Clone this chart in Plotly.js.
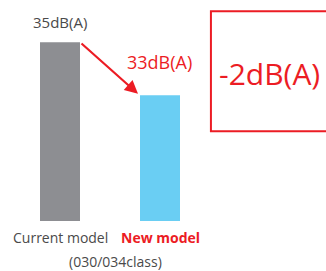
<!DOCTYPE html>
<html><head><meta charset="utf-8">
<script src="https://cdn.plot.ly/plotly-3.0.1.min.js"></script>
<style>html,body{margin:0;padding:0;background:#fff;overflow:hidden}#c{width:326px;height:271px;overflow:hidden}</style>
</head><body><div id="c"></div>
<script>
const categories = ["Current model", "New model"];
const values = [35, 33];
const valueLabels = ["35dB(A)", "33dB(A)"];
const subLabel = "(030/034class)";
const diffLabel = "-2dB(A)";
const barColors = ["#8d8e92", "#6acef3"];

const red = "#ec1c24";
const fontFam = "Open Sans, Noto Sans, sans-serif";

const trace = {
  type: "bar",
  x: [0, 1],
  y: values,
  base: 0,
  width: 0.4,
  marker: {color: barColors, line: {width: 0}},
  hoverinfo: "none"
};

const layout = {
  width: 326, height: 271,
  margin: {l: 0, r: 0, t: 0, b: 50},
  paper_bgcolor: "#fff", plot_bgcolor: "#fff",
  showlegend: false,
  xaxis: {range: [-0.6, 2.66], visible: false, fixedrange: true},
  yaxis: {range: [28.25, 36.59], visible: false, fixedrange: true},
  shapes: [
    {type: "path", xref: "paper", yref: "y",
     path: "M 1.2 36.17 L 0.647 36.17 L 0.647 31.64 L 1.2 31.64",
     line: {color: red, width: 2}, fillcolor: "rgba(0,0,0,0)"}
  ],
  annotations: [
    {x: 0, y: values[0], xref: "x", yref: "y", text: valueLabels[0], showarrow: false,
     yanchor: "bottom", yshift: 8, font: {family: fontFam, size: 15, color: "#4a4a4a"}},
    {x: 0.99, y: 34.25, xref: "x", yref: "y", text: valueLabels[1], showarrow: false,
     yanchor: "middle", font: {family: fontFam, size: 18, color: red}},
    {x: 0.78, y: 33.05, xref: "x", yref: "y", ax: 0.2, ay: values[0], axref: "x", ayref: "y",
     text: "", showarrow: true, arrowhead: 2, arrowsize: 1.2, arrowwidth: 2.2, arrowcolor: red},
    {x: 2.09, y: 33.83, xref: "x", yref: "y", text: diffLabel, showarrow: false,
     yanchor: "middle", font: {family: fontFam, size: 30, color: red}},
    {x: 0, y: -0.075, xref: "x", yref: "paper", text: categories[0], showarrow: false,
     yanchor: "middle", font: {family: fontFam, size: 14, color: "#4a4a4a"}},
    {x: 1, y: -0.075, xref: "x", yref: "paper", text: "<b>" + categories[1] + "</b>", showarrow: false,
     yanchor: "middle", font: {family: fontFam, size: 14, color: red}},
    {x: 0.55, y: -0.185, xref: "x", yref: "paper", text: subLabel, showarrow: false,
     yanchor: "middle", font: {family: fontFam, size: 14, color: "#4a4a4a"}}
  ]
};

Plotly.newPlot("c", [trace], layout, {staticPlot: true, displayModeBar: false});
</script>
</body></html>
